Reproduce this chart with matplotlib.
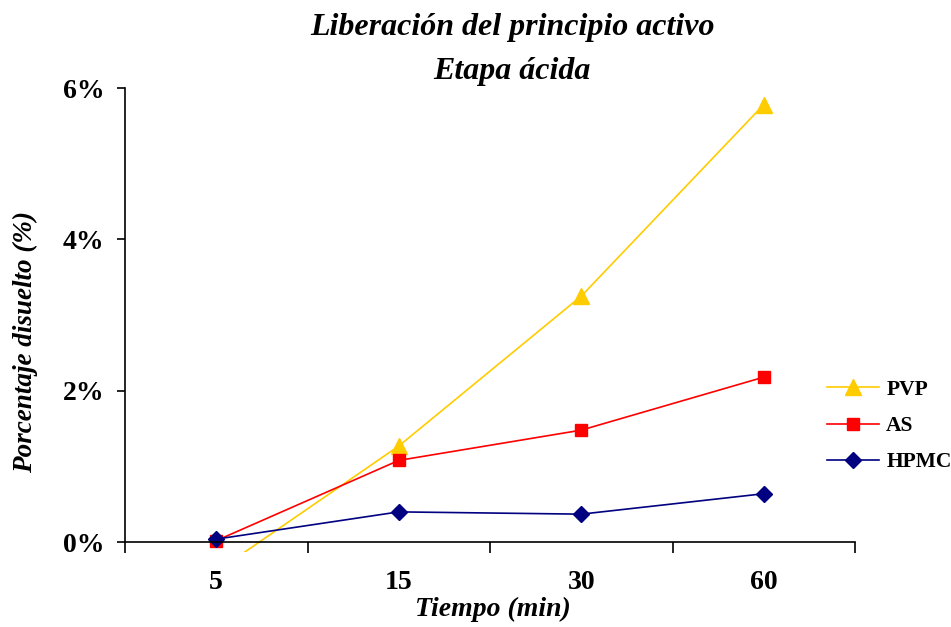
import matplotlib.pyplot as plt
from matplotlib.ticker import FixedLocator, FuncFormatter

# data (percent dissolved, acid stage)
tiempos = ["5", "15", "30", "60"]
pvp = [-0.39, 1.27, 3.25, 5.78]
as_ = [0.02, 1.08, 1.48, 2.18]
hpmc = [0.04, 0.40, 0.37, 0.64]

plt.rcParams['font.family'] = ['Liberation Serif', 'DejaVu Serif']

fig = plt.figure(figsize=(9.51, 6.27), dpi=100)
# plot area in pixels: x 125..855, y 88..552 (image coords)
ax = fig.add_axes([125 / 951, 1 - 552 / 627, 730 / 951, 464 / 627])

x = range(len(tiempos))
ax.plot(x, pvp, color='#FFCC00', lw=1.2, marker='^', ms=11, label='PVP')
ax.plot(x, as_, color='#FF0000', lw=1.2, marker='s', ms=8.5, label='AS')
ax.plot(x, hpmc, color='#000080', lw=1.2, marker='D', ms=8, label='HPMC')

ax.set_xlim(-0.5, len(tiempos) - 0.5)
ax.set_ylim(-0.13, 6)

for s in ['top', 'right']:
    ax.spines[s].set_visible(False)
ax.spines['bottom'].set_position(('data', 0))
ax.spines['left'].set_bounds(0, 6)
for s in ['bottom', 'left']:
    ax.spines[s].set_linewidth(1.2)

ax.yaxis.set_major_locator(FixedLocator([0, 2, 4, 6]))
ax.yaxis.set_major_formatter(FuncFormatter(lambda v, p: f"{v:.0f}%"))
ax.tick_params(axis='y', direction='out', length=6, width=1.2, labelsize=20, pad=9)

ax.set_xticks(list(x))
ax.set_xticklabels(tiempos, fontsize=20, fontweight='bold')
ax.set_xticks([i - 0.5 for i in range(len(tiempos) + 1)], minor=True)
ax.tick_params(axis='x', which='major', length=0, pad=20)
ax.tick_params(axis='x', which='minor', direction='out', length=8, width=1.2)
for lab in ax.get_yticklabels():
    lab.set_fontweight('bold')

fig.text(512 / 951, 1 - 28 / 627, "Liberación del principio activo", ha='center', va='center',
         fontsize=23, fontweight='bold', fontstyle='italic')
fig.text(512 / 951, 1 - 72 / 627, "Etapa ácida", ha='center', va='center',
         fontsize=23, fontweight='bold', fontstyle='italic')
fig.text(493 / 951, 1 - 609 / 627, "Tiempo (min)", ha='center', va='center',
         fontsize=20, fontweight='bold', fontstyle='italic')
fig.text(25 / 951, 1 - 342 / 627, "Porcentaje disuelto (%)", ha='center', va='center',
         rotation=90, fontsize=19.5, fontweight='bold', fontstyle='italic')

ax.legend(loc='center left', bbox_to_anchor=(827 / 951, 1 - 426 / 627),
          bbox_transform=fig.transFigure, frameon=False,
          prop={'size': 15.5, 'weight': 'bold'}, handlelength=2.4,
          labelspacing=0.75, handletextpad=0.35, borderpad=0, borderaxespad=0)

fig.savefig("out.png", dpi=100)
